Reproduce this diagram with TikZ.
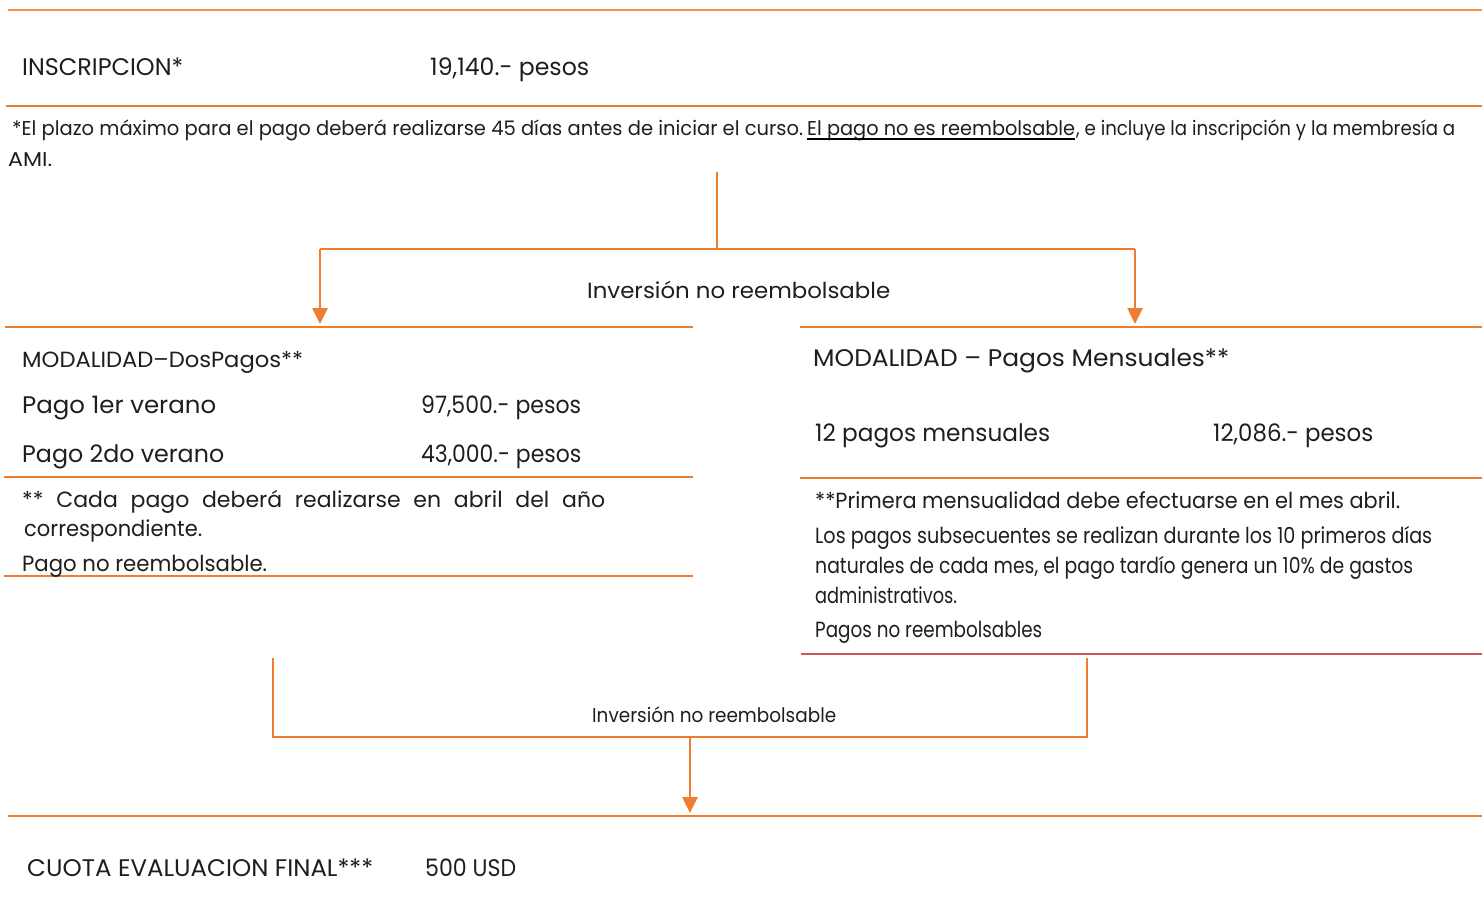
\documentclass[tikz,border=0pt]{standalone}
\usepackage{fontspec}
\setmainfont{Poppins}
\usetikzlibrary{arrows.meta}
\definecolor{org}{HTML}{ED7D31}
\definecolor{orglt}{HTML}{F4914A}
\definecolor{redl}{HTML}{D0575B}
\definecolor{txt}{HTML}{1E1E1E}
\newsavebox\fitbox
\newcommand\fitx[2]{\sbox\fitbox{#2}\pgfmathsetmacro\fitr{#1/\the\wd\fitbox}\scalebox{\fitr}[1]{\usebox\fitbox}}
\begin{document}
\begin{tikzpicture}[x=1pt,y=-1pt,
  rule/.style={org,line width=2.4pt},
  conn/.style={org,line width=2.6pt},
  arr/.style={conn,-{Triangle[length=16pt,width=15pt]}},
  lbl/.style={anchor=base west,inner sep=0pt,text=txt},
  big/.style={font=\fontsize{24}{28}\selectfont},
  mid/.style={font=\fontsize{22}{26}\selectfont},
  sml/.style={font=\fontsize{20}{24}\selectfont}]
\useasboundingbox (0,0) rectangle (1482,898);
% rules
\draw[orglt,line width=2.4pt] (8,10) -- (1482,10);
\draw[rule] (6,106) -- (1482,106);
\draw[rule] (5,327) -- (693,327);
\draw[rule] (800,327) -- (1482,327);
\draw[rule] (4,477) -- (693,477);
\draw[rule] (800,478) -- (1482,478);
\draw[rule] (4,576) -- (693,576);
\draw[redl,line width=2.4pt] (801,654) -- (1482,654);
\draw[rule] (8,816) -- (1482,816);
% top block
\node[lbl,big] (insc) at (22,75) {\fitx{161}{INSCRIPCION*}};
\node[lbl,big] (inscv) at (430,75) {\fitx{159}{19,140.- pesos}};
\node[lbl,sml] (fnA) at (12,135) {\fitx{791}{*El plazo máximo para el pago deberá realizarse 45 días antes de iniciar el curso.}};
\node[lbl,sml] (fnB) at (807,135) {\fitx{268}{El pago no es reembolsable}};
\node[lbl,sml] (fnC) at (1076,135) {\fitx{379}{, e incluye la inscripción y la membresía a}};
\draw[black,line width=1.6pt] ([yshift=-4pt]fnB.base west) -- ([yshift=-4pt]fnB.base east);
\node[lbl,sml] (fn2) at (8,166) {\fitx{44}{AMI.}};
% connectors top
\coordinate (s1) at (717,172);
\coordinate (j1) at (717,249);
\coordinate (l1) at (320,249);
\coordinate (r1) at (1135,249);
\coordinate (la) at (320,324);
\coordinate (ra) at (1135,324);
\draw[conn] (s1) -- (j1);
\draw[conn] (l1) -- (r1);
\draw[arr] (l1) -- (la);
\draw[arr] (r1) -- (ra);
\node[lbl,mid] (inv1) at (587,298) {\fitx{303}{Inversión no reembolsable}};
% left block
\node[lbl,mid] (ml) at (22,367) {\fitx{281}{MODALIDAD–DosPagos**}};
\node[lbl,big] (p1) at (22,413) {\fitx{194}{Pago 1er verano}};
\node[lbl,big] (p1v) at (421,413) {\fitx{160}{97,500.- pesos}};
\node[lbl,big] (p2) at (22,462) {\fitx{202}{Pago 2do verano}};
\node[lbl,big] (p2v) at (421,462) {\fitx{160}{43,000.- pesos}};
\node[lbl,mid] (n1) at (22,507) {\makebox[583pt][s]{** Cada pago deberá realizarse en abril del año}};
\node[lbl,mid] (n2) at (24,536) {\fitx{178}{correspondiente.}};
\node[lbl,mid] (n3) at (22,571) {\fitx{245}{Pago no reembolsable.}};
% right block
\node[lbl,big] (mr) at (813,366) {\fitx{416}{MODALIDAD – Pagos Mensuales**}};
\node[lbl,big] (pm) at (815,441) {\fitx{235}{12 pagos mensuales}};
\node[lbl,big] (pmv) at (1213,441) {\fitx{160}{12,086.- pesos}};
\node[lbl,mid] (r1t) at (815,508) {\fitx{585}{**Primera mensualidad debe efectuarse en el mes abril.}};
\node[lbl,mid] (r2t) at (815,543) {\fitx{617}{Los pagos subsecuentes se realizan durante los 10 primeros días}};
\node[lbl,mid] (r3t) at (815,573) {\fitx{598}{naturales de cada mes, el pago tardío genera un 10\% de gastos}};
\node[lbl,mid] (r4t) at (815,603) {\fitx{142}{administrativos.}};
\node[lbl,mid] (r5t) at (815,637) {\fitx{227}{Pagos no reembolsables}};
% bottom connectors
\coordinate (bl) at (273,658);
\coordinate (br) at (1087,658);
\coordinate (blc) at (273,737);
\coordinate (brc) at (1087,737);
\coordinate (bm) at (690,737);
\coordinate (bend) at (690,813);
\draw[conn] (bl) -- (blc) -- (brc) -- (br);
\draw[arr] (bm) -- (bend);
\node[lbl,sml] (inv2) at (592,722) {\fitx{244}{Inversión no reembolsable}};
% final
\node[lbl,big] (cuota) at (27,876) {\fitx{346}{CUOTA EVALUACION FINAL***}};
\node[lbl,big] (cuotav) at (425,876) {\fitx{91}{500 USD}};
\end{tikzpicture}
\end{document}
